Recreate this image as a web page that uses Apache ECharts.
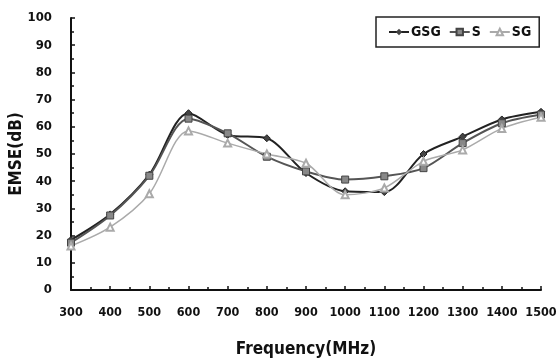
<!DOCTYPE html>
<html><head><meta charset="utf-8">
<script src="https://cdn.jsdelivr.net/npm/echarts@6/dist/echarts.min.js"></script>
<style>html,body{margin:0;padding:0;background:#fff}#c{width:557px;height:359px}</style>
</head><body><div id="c"></div>
<script>
var freq = [300,400,500,600,700,800,900,1000,1100,1200,1300,1400,1500];
var gsg = [18.4,27.8,42.4,65,57,55.8,43,36.3,36,50,56.4,62.7,65.5];
var s   = [17.4,27.4,42,63,57.6,49,43.6,40.6,41.8,44.8,54,61.3,64.5];
var sg  = [16.2,23.1,35.4,58.5,54,50,46.6,35,37.5,47.3,51.5,59.4,63.5];
var xTitle = 'Frequency(MHz)';
var yTitle = 'EMSE(dB)';
var F = '"DejaVu Sans Condensed", "Liberation Sans Narrow", "Liberation Sans", sans-serif';
function pairs(v){return freq.map(function(f,i){return [f,v[i]];});}
var chart = echarts.init(document.getElementById('c'));
chart.setOption({
  animation:false,
  backgroundColor:'#fff',
  grid:{left:71,right:16,top:18,bottom:69,outerBoundsMode:'none',containLabel:false},
  legend:{
    left:376, top:17, width:200,
    borderColor:'#222', borderWidth:1.5, padding:[8,8,8,12],
    itemGap:8, itemWidth:20, itemHeight:8,
    textStyle:{fontFamily:F,fontWeight:'bold',fontSize:14,color:'#111',padding:[0,0,0,-3]},
    data:['GSG','S','SG']
  },
  xAxis:{
    type:'value', min:300, max:1500, interval:100,
    name:xTitle, nameLocation:'middle', nameGap:51, nameMoveOverlap:false,
    nameTextStyle:{fontFamily:F,fontWeight:'bold',fontSize:17,color:'#111'},
    axisLine:{lineStyle:{color:'#111',width:2}},
    axisTick:{show:true,inside:true,length:4,lineStyle:{color:'#111',width:1.5}},
    minorTick:{show:true,splitNumber:2,length:3,lineStyle:{color:'#111',width:1.5}},
    splitLine:{show:false},
    axisLabel:{fontFamily:F,fontWeight:'bold',fontSize:12.5,color:'#111',margin:16,
      formatter:function(v){return String(v);}}
  },
  yAxis:{
    type:'value', min:0, max:100, interval:10,
    name:yTitle, nameLocation:'middle', nameGap:46, nameRotate:90, nameMoveOverlap:false,
    nameTextStyle:{fontFamily:F,fontWeight:'bold',fontSize:17,color:'#111'},
    axisLine:{show:true,lineStyle:{color:'#111',width:2}},
    axisTick:{show:true,inside:true,length:4,lineStyle:{color:'#111',width:1.5}},
    minorTick:{show:true,splitNumber:2,length:3,lineStyle:{color:'#111',width:1.5}},
    splitLine:{show:false},
    axisLabel:{fontFamily:F,fontWeight:'bold',fontSize:13,color:'#111',margin:19,
      formatter:function(v){return String(v);}}
  },
  series:[
    {name:'GSG',type:'line',smooth:0.3,data:pairs(gsg),symbol:'diamond',symbolSize:7,
     lineStyle:{color:'#222',width:2},itemStyle:{color:'#444',borderColor:'#222'}},
    {name:'S',type:'line',smooth:0.3,data:pairs(s),symbol:'rect',symbolSize:7,
     lineStyle:{color:'#555',width:2},itemStyle:{color:'#888',borderColor:'#444',borderWidth:1}},
    {name:'SG',type:'line',smooth:0.3,data:pairs(sg),symbol:'emptyTriangle',symbolSize:7,
     lineStyle:{color:'#aaa',width:1.5},itemStyle:{color:'#aaa',borderColor:'#aaa'}}
  ]
});
</script></body></html>
